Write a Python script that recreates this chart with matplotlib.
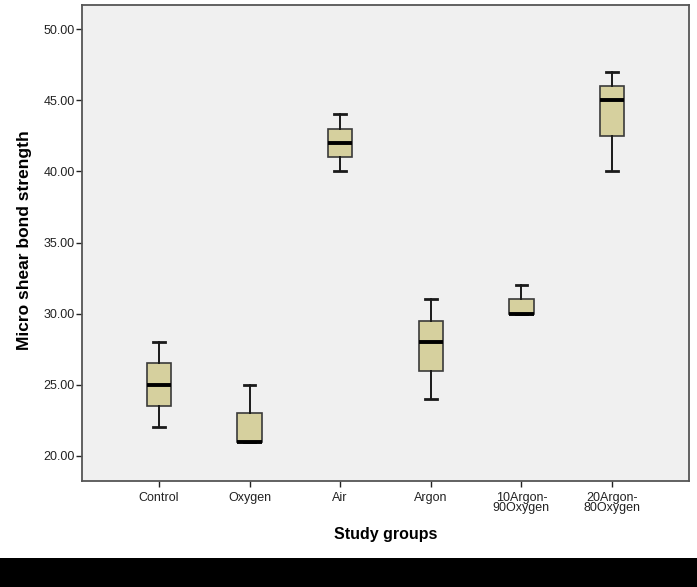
import matplotlib
matplotlib.use("Agg")
import matplotlib.pyplot as plt
from matplotlib.patches import Rectangle

plt.rcParams['font.family'] = ['Liberation Sans', 'DejaVu Sans']

groups = ["Control", "Oxygen", "Air", "Argon", "10Argon-\n90Oxygen", "20Argon-\n80Oxygen"]
whislo = [22.0, 21.0, 40.0, 24.0, 30.0, 40.0]
q1 = [23.5, 21.0, 41.0, 26.0, 30.0, 42.5]
med = [25.0, 21.0, 42.0, 28.0, 30.0, 45.0]
q3 = [26.5, 23.0, 43.0, 29.5, 31.0, 46.0]
whishi = [28.0, 25.0, 44.0, 31.0, 32.0, 47.0]
yticks = [20, 25, 30, 35, 40, 45, 50]

stats = []
for i, g in enumerate(groups):
    stats.append(dict(label=g, whislo=whislo[i], q1=q1[i], med=med[i],
                      q3=q3[i], whishi=whishi[i], fliers=[]))

fig = plt.figure(figsize=(6.97, 5.87), dpi=100)
ax = fig.add_axes([82 / 697, 106 / 587, 607 / 697, 476 / 587])
ax.set_facecolor("#f0f0f0")

pos = list(range(1, len(groups) + 1))
ax.bxp(stats, positions=pos, widths=0.27, patch_artist=True,
       showfliers=False,
       boxprops=dict(facecolor="#d6d09e", edgecolor="#3a3a3a", linewidth=1.2),
       medianprops=dict(color="black", linewidth=2.8),
       whiskerprops=dict(color="#1a1a1a", linewidth=1.4),
       capprops=dict(color="#1a1a1a", linewidth=2.0),
       capwidths=0.13)

ax.set_xlim(0.15, 6.85)
ax.set_ylim(18.24, 51.69)
ax.set_yticks(yticks)
ax.set_yticklabels(["%.2f" % v for v in yticks])
ax.set_xticks(pos)
ax.set_xticklabels(groups, linespacing=0.8)
ax.tick_params(axis="both", labelsize=9, colors="#222222", length=4, width=1)
ax.tick_params(axis="x", pad=4)
ax.tick_params(axis="y", pad=1)

for s in ax.spines.values():
    s.set_color("#555555")
    s.set_linewidth(1.3)

fig.text(25 / 697, 1 - 240 / 587, "Micro shear bond strength", rotation=90,
         ha="center", va="center", fontsize=12.5, fontweight="bold")
fig.text(386 / 697, 1 - 535 / 587, "Study groups", ha="center", va="center",
         fontsize=11.5, fontweight="bold")

fig.patches.append(Rectangle((0, 0), 1, 29 / 587, transform=fig.transFigure,
                             facecolor="black", edgecolor="none", zorder=-1))

fig.savefig("out.png", dpi=100, facecolor="white")
